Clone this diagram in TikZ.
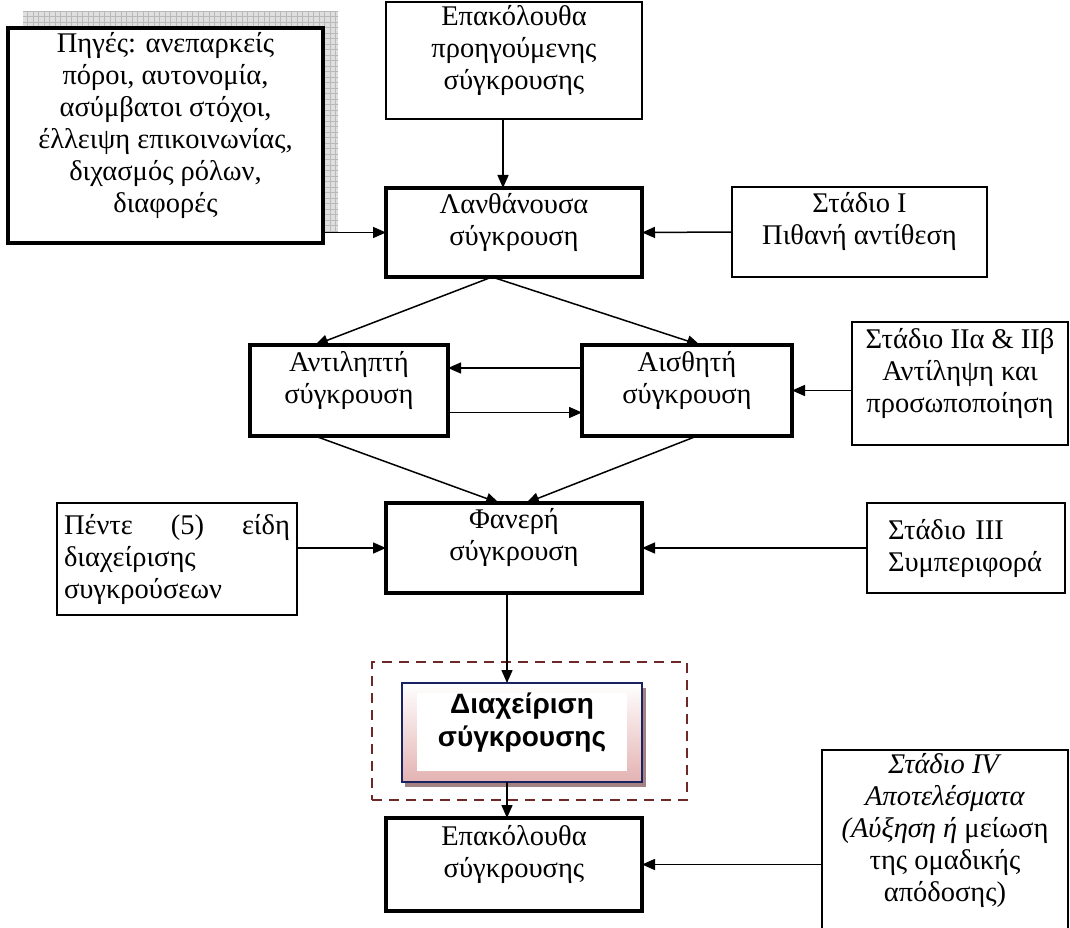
\documentclass[tikz,border=0pt]{standalone}
\usepackage{fontspec}
\setmainfont{Liberation Serif}
\setsansfont{Liberation Sans}
\usetikzlibrary{arrows.meta,fit,calc}
\definecolor{navyc}{RGB}{25,35,100}
\definecolor{pinkc}{RGB}{228,178,178}
\definecolor{dashc}{RGB}{110,40,40}
\definecolor{shadowc}{RGB}{165,130,130}
\begin{document}
\begin{tikzpicture}[x=1pt,y=-1pt,
  txt/.style={font=\fontsize{28.5}{32}\selectfont, align=center, inner sep=0pt, outer sep=0pt},
  thinbox/.style={txt, draw, fill=white, line width=1.5pt},
  thickbox/.style={txt, draw, fill=white, line width=4pt},
  arr/.style={line width=1.5pt, -{Triangle[length=13pt,width=11pt]}},
]
\clip (0,0) rectangle (1070,928);
\fill[white] (0,0) rectangle (1070,928);

% shadow grid behind the sources box
\begin{scope}
  \clip (23,12) rectangle (338,232);
  \fill[gray!25] (23,12) rectangle (338,232);
  \draw[gray!55, line width=0.6pt, step=5.5pt] (20,10) grid (340,235);
\end{scope}

\node[thickbox, fit={(8,28) (323,243)}] (src) {Πηγές: ανεπαρκείς\\πόροι, αυτονομία,\\ασύμβατοι στόχοι,\\έλλειψη επικοινωνίας,\\διχασμός ρόλων,\\διαφορές};

\node[thinbox, fit={(386,2) (642,119)}] (top) {Επακόλουθα\\προηγούμενης\\σύγκρουσης};
\node[thickbox, fit={(386,188) (642,277)}] (lat) {Λανθάνουσα\\σύγκρουση};
\node[thinbox, fit={(732,187) (987,277)}] (s1) {Στάδιο I\\Πιθανή αντίθεση};

\node[thickbox, fit={(250,345) (448,436)}] (ant) {Αντιληπτή\\σύγκρουση};
\node[thickbox, fit={(582,345) (792,436)}] (ais) {Αισθητή\\σύγκρουση};
\node[thinbox, fit={(852,322) (1068,445)}] (s2) {Στάδιο IIα \& IIβ\\Αντίληψη και\\προσωποποίηση};

\node[thickbox, fit={(386,503) (642,593)}] (fan) {Φανερή\\σύγκρουση};
\node[thinbox, minimum width=240pt, minimum height=112pt, text width=226pt, align=left] (pen) at (177,559)
  {\makebox[226pt][l]{Πέντε\hfill(5)\hfill είδη}\\διαχείρισης\\συγκρούσεων};
\node[thinbox, minimum width=198pt, minimum height=90pt, text width=156pt, align=left] (s3) at (966,548)
  {Στάδιο III\\Συμπεριφορά};

% management box
\node[draw=dashc, line width=2pt, dash pattern=on 10pt off 7pt, inner sep=0pt, fit={(372,662) (687,800)}] (grp) {};
\fill[shadowc] (405,688) rectangle (646,787);
\shade[top color=white, bottom color=pinkc] (402,683) rectangle (642,782);
\fill[white] (417,693) rectangle (627,771);
\node[txt, draw=navyc, line width=2pt, fit={(402,683) (642,782)}, font=\sffamily\bfseries\fontsize{28}{33}\selectfont] (dia) {Διαχείριση\\σύγκρουσης};

\node[thickbox, fit={(386,818) (642,911)}] (eps) {Επακόλουθα\\σύγκρουσης};
\node[thinbox, fit={(822,750) (1068,932)}] (s4) {\textit{Στάδιο IV}\\\textit{Αποτελέσματα}\\\textit{(Αύξηση ή} μείωση\\της ομαδικής\\απόδοσης)};

% connectors
\draw[arr] ([xshift=-11pt]top.south) -- ([xshift=-11pt]lat.north);
\draw[arr] (src.east |- lat.west) -- (lat.west);
\draw[arr] (s1.west) -- (lat.east);
\draw[arr] ([xshift=-22pt]lat.south) -- ([xshift=-34pt]ant.north);
\draw[arr] ([xshift=-22pt]lat.south) -- ([xshift=13pt]ais.north);
\draw[arr] ([yshift=22.5pt]ais.west) -- ([yshift=22.5pt]ant.east);
\draw[arr] ([yshift=-22pt]ant.east) -- ([yshift=-22pt]ais.west);
\draw[arr] (s2.west |- ais.east) -- (ais.east);
\draw[arr] ([xshift=-34pt]ant.south) -- ([xshift=-15pt]fan.north);
\draw[arr] ([xshift=10pt]ais.south) -- ([xshift=12pt]fan.north);
\draw[arr] (pen.east |- fan.west) -- (fan.west);
\draw[arr] (s3.west) -- (fan.east);
\draw[arr] ([xshift=-7pt]fan.south) -- ([xshift=-7pt]fan.south |- dia.north);
\draw[arr] ([xshift=-15pt]dia.south) -- ([xshift=-15pt]dia.south |- eps.north);
\draw[arr] (s4.west |- eps.east) -- (eps.east);
\end{tikzpicture}
\end{document}
